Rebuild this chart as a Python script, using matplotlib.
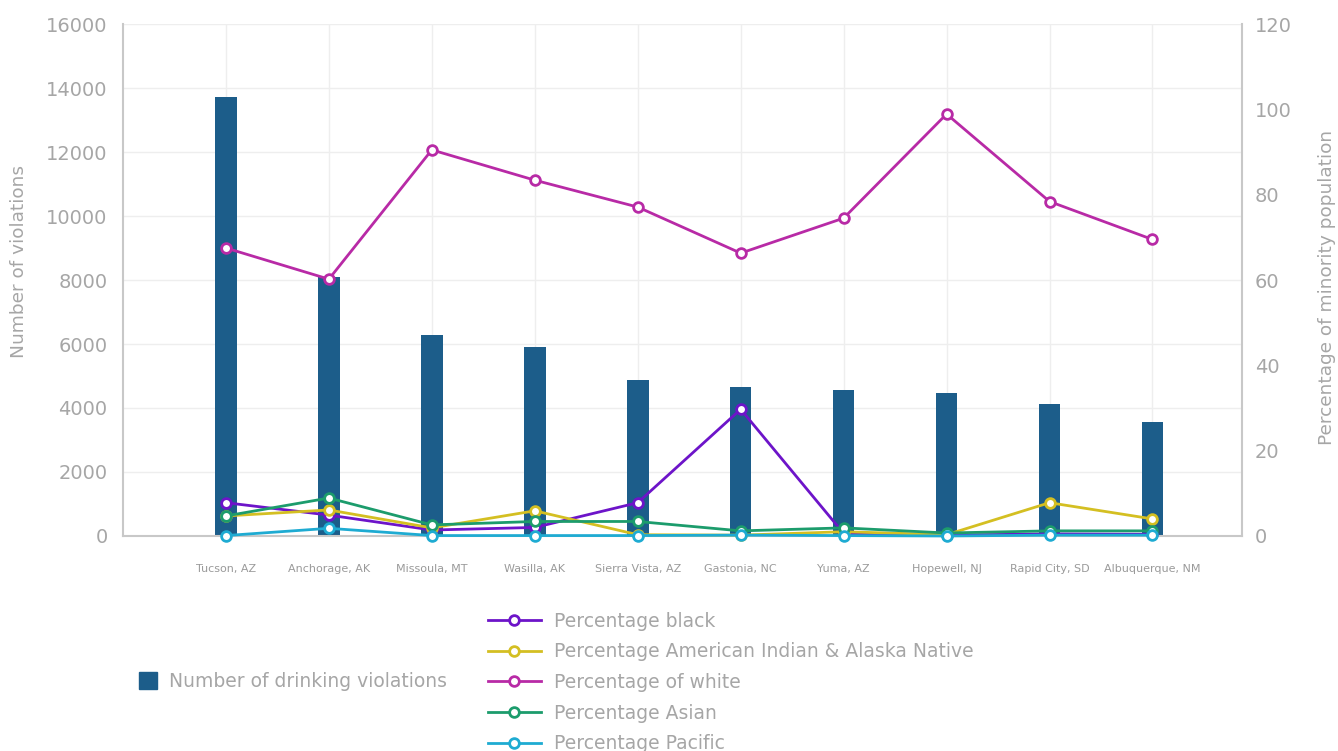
import matplotlib
matplotlib.use("Agg")
import matplotlib.pyplot as plt
from matplotlib.lines import Line2D
from matplotlib.patches import Patch

cities = ["Tucson, AZ", "Anchorage, AK", "Missoula, MT", "Wasilla, AK", "Sierra Vista, AZ",
          "Gastonia, NC", "Yuma, AZ", "Hopewell, NJ", "Rapid City, SD", "Albuquerque, NM"]
violations = [13720, 8090, 6280, 5920, 4870, 4650, 4550, 4460, 4120, 3550]

pct_black = [7.8, 4.9, 1.4, 2.0, 7.8, 29.7, 0.6, 0.2, 0.5, 0.4]
pct_native = [4.7, 6.1, 1.9, 5.9, 0.3, 0.2, 1.0, 0.3, 7.8, 4.0]
pct_white = [67.5, 60.2, 90.5, 83.4, 77.1, 66.3, 74.5, 98.9, 78.4, 69.5]
pct_asian = [4.7, 8.9, 2.6, 3.4, 3.4, 1.2, 1.9, 0.7, 1.2, 1.2]
pct_pacific = [0.1, 1.8, 0.1, 0.1, 0.1, 0.2, 0.1, 0.0, 0.2, 0.2]

series = [
    ("Percentage black", pct_black, "#6d14c9"),
    ("Percentage American Indian & Alaska Native", pct_native, "#d4bf22"),
    ("Percentage of white", pct_white, "#b82aa6"),
    ("Percentage Asian", pct_asian, "#1c9c6c"),
    ("Percentage Pacific", pct_pacific, "#1eabd2"),
]

BAR = "#1c5d8a"
GREY = "#a6a6a6"
AXIS = "#c8c8c8"

plt.rcParams["font.family"] = ["DejaVu Sans"]

fig = plt.figure(figsize=(13.38, 7.51), dpi=100)
ax = fig.add_axes([0.0919, 0.2863, 0.8364, 0.6817])
x = list(range(len(cities)))

ax.bar(x, violations, width=0.21, color=BAR, zorder=2)
ax.set_xlim(-1, 9.87)
ax.set_ylim(0, 16000)
ax.set_yticks(range(0, 16001, 2000))
ax.set_xticks(x)
ax.set_xticklabels(cities, fontsize=8, color="#9a9a9a")
ax.tick_params(axis="y", labelsize=14, colors=GREY, length=0, pad=11)
ax.tick_params(axis="x", length=0, pad=20)
ax.grid(True, color="#eeeeee", linewidth=1, zorder=0)
ax.set_axisbelow(True)
for s in ("top", "right"):
    ax.spines[s].set_visible(False)
for s in ("left", "bottom"):
    ax.spines[s].set_color(AXIS)
    ax.spines[s].set_linewidth(1.5)
ax.set_ylabel("Number of violations", fontsize=13.3, color=GREY)
ax.yaxis.set_label_coords(-0.085, 0.537)

ax2 = ax.twinx()
ax2.set_ylim(0, 120)
ax2.set_yticks(range(0, 121, 20))
ax2.tick_params(axis="y", labelsize=14, colors=GREY, length=0, pad=9)
for s in ("top", "left", "bottom"):
    ax2.spines[s].set_visible(False)
ax2.spines["right"].set_color(AXIS)
ax2.spines["right"].set_linewidth(1.5)
ax2.set_ylabel("Percentage of minority population", fontsize=13.3, color=GREY)
ax2.yaxis.set_label_coords(1.068, 0.486)

line_handles = []
for label, vals, col in series:
    ax2.plot(x, vals, color=col, linewidth=2, marker="o", markersize=7,
             markerfacecolor="white", markeredgecolor=col, markeredgewidth=2,
             clip_on=False, zorder=3)
    line_handles.append(Line2D([0], [0], color=col, linewidth=2, marker="o", markersize=7,
                               markerfacecolor="white", markeredgecolor=col,
                               markeredgewidth=2, label=label))

fig.legend(handles=[Patch(color=BAR, label="Number of drinking violations")],
           loc="center left", bbox_to_anchor=(0.091, 0.093), frameon=False,
           fontsize=13.5, handlelength=1.0, handleheight=1.05, handletextpad=0.64,
           labelcolor=GREY)
fig.legend(handles=line_handles, loc="upper left", bbox_to_anchor=(0.352, 0.208),
           frameon=False, fontsize=13.5, handlelength=2.83, handletextpad=0.7,
           labelspacing=0.62, labelcolor=GREY)

fig.savefig("out.png", dpi=100)
